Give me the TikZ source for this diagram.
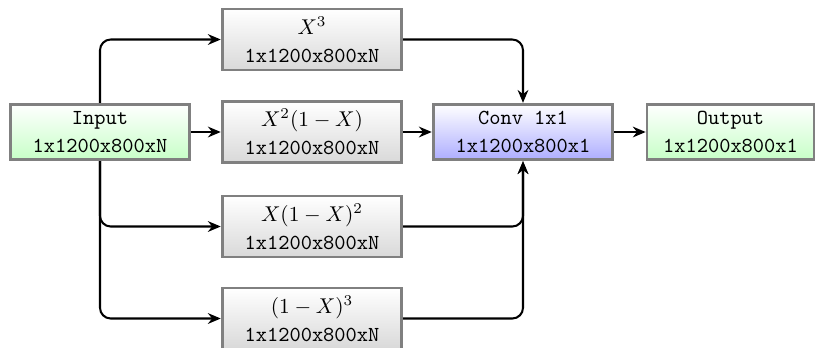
\documentclass[tikz,border=0pt]{standalone}
\usetikzlibrary{arrows.meta,shadows}
\begin{document}
\begin{tikzpicture}[x=0.4675pt,y=-0.4675pt,
  boxbase/.style={draw=gray,line width=1.3pt,minimum height=26pt,inner sep=0pt,align=center,font=\normalsize,
    drop shadow={shadow xshift=0.6pt,shadow yshift=-0.6pt,opacity=0.15}},
  graybox/.style={boxbase,minimum width=84pt,minimum height=28.5pt,top color=white,bottom color=gray!30},
  greenbox/.style={boxbase,top color=white,bottom color=green!22},
  bluebox/.style={boxbase,minimum width=84pt,top color=white,bottom color=blue!32},
  conn/.style={line width=0.95pt,rounded corners=5pt},
  arr/.style={conn,-{Stealth[length=6pt,width=5pt]}}]
\useasboundingbox (0,0) rectangle (820,347);
\node[greenbox,minimum width=84pt] (in) at (100,132) {\texttt{Input}\\[1pt]\texttt{1x1200x800xN}};
\node[graybox] (a) at (312,39.5) {$X^3$\\[1pt]\texttt{1x1200x800xN}};
\node[graybox] (b) at (312,132) {$X^2(1-X)$\\[1pt]\texttt{1x1200x800xN}};
\node[graybox] (c) at (312,226.5) {$X(1-X)^2$\\[1pt]\texttt{1x1200x800xN}};
\node[graybox] (d) at (312,318.5) {$(1-X)^3$\\[1pt]\texttt{1x1200x800xN}};
\node[bluebox] (conv) at (523,132) {\texttt{Conv 1x1}\\[1pt]\texttt{1x1200x800x1}};
\node[greenbox,minimum width=78pt] (out) at (730.5,132) {\texttt{Output}\\[1pt]\texttt{1x1200x800x1}};
\draw[arr] (in.north) |- (a.west);
\draw[arr] (in.east) -- (b.west);
\draw[arr] (in.south) |- (c.west);
\draw[arr] (in.south) |- (d.west);
\draw[arr] (a.east) -| (conv.north);
\draw[arr] (b.east) -- (conv.west);
\draw[arr] (c.east) -| (conv.south);
\draw[arr] (d.east) -| (conv.south);
\draw[arr] (conv.east) -- (out.west);
\end{tikzpicture}
\end{document}
